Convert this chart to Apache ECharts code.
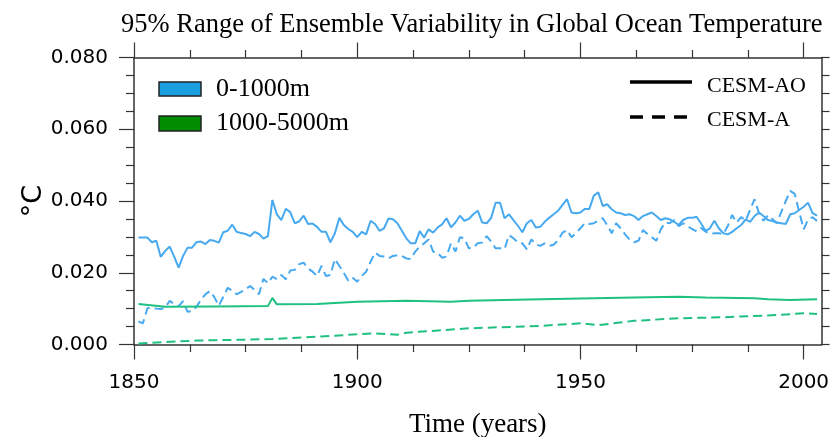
<!DOCTYPE html>
<html><head><meta charset="utf-8">
<script src="https://cdn.jsdelivr.net/npm/echarts@6/dist/echarts.min.js"></script>
<style>html,body{margin:0;padding:0;background:#fff}#c{width:836px;height:437px}</style>
</head><body><div id="c"></div>
<script>
const titleText = '95% Range of Ensemble Variability in Global Ocean Temperature';
const xName = 'Time (years)';
const yName = '°C';
const legendLayers = ['0-1000m', '1000-5000m'];
const legendModels = ['CESM-AO', 'CESM-A'];
const xTicks = [1850, 1900, 1950, 2000];
const yTicks = [0, 0.02, 0.04, 0.06, 0.08];
const startYear = 1851;

// 0-1000m, CESM-AO (solid blue), annual from 1851
const upperAO = [
 .0298,.0298,.0298,.0285,.0289,.0244,.0261,.0273,.0245,.0214,
 .0247,.0270,.0270,.0285,.0287,.0280,.0291,.0289,.0284,.0313,
 .0317,.0334,.0314,.0311,.0308,.0302,.0314,.0308,.0295,.0302,
 .0403,.0363,.0347,.0378,.0369,.0338,.0343,.0359,.0336,.0337,
 .0328,.0314,.0314,.0285,.0310,.0353,.0333,.0322,.0314,.0299,
 .0314,.0307,.0345,.0336,.0317,.0324,.0351,.0349,.0338,.0317,
 .0296,.0282,.0282,.0316,.0298,.0321,.0312,.0326,.0335,.0352,
 .0327,.0340,.0359,.0345,.0350,.0363,.0373,.0340,.0338,.0353,
 .0395,.0395,.0352,.0363,.0347,.0331,.0313,.0338,.0347,.0326,
 .0328,.0342,.0353,.0363,.0373,.0389,.0405,.0368,.0366,.0368,
 .0378,.0378,.0415,.0424,.0386,.0391,.0377,.0368,.0366,.0361,
 .0363,.0358,.0347,.0358,.0363,.0368,.0358,.0347,.0352,.0349,
 .0342,.0333,.0347,.0353,.0353,.0356,.0338,.0317,.0324,.0345,
 .0324,.0310,.0307,.0314,.0324,.0333,.0349,.0342,.0358,.0368,
 .0358,.0347,.0344,.0340,.0338,.0336,.0363,.0366,.0375,.0384,
 .0395,.0366,.0359
];
// 0-1000m, CESM-A (dashed blue), annual from 1851
const upperA = [
 .0064,.0059,.0101,.0103,.0100,.0099,.0103,.0122,.0112,.0107,
 .0121,.0091,.0093,.0105,.0125,.0140,.0149,.0132,.0108,.0133,
 .0158,.0150,.0140,.0147,.0154,.0163,.0152,.0140,.0183,.0171,
 .0189,.0182,.0194,.0182,.0206,.0208,.0224,.0228,.0212,.0203,
 .0191,.0219,.0191,.0194,.0238,.0219,.0200,.0178,.0186,.0175,
 .0191,.0203,.0231,.0256,.0247,.0245,.0240,.0247,.0249,.0247,
 .0240,.0238,.0259,.0273,.0282,.0293,.0259,.0256,.0242,.0245,
 .0282,.0259,.0299,.0296,.0268,.0270,.0282,.0284,.0302,.0287,
 .0268,.0268,.0266,.0305,.0296,.0284,.0282,.0265,.0293,.0279,
 .0275,.0282,.0275,.0278,.0291,.0312,.0319,.0299,.0310,.0324,
 .0338,.0336,.0338,.0345,.0352,.0333,.0310,.0338,.0324,.0307,
 .0293,.0285,.0289,.0319,.0308,.0299,.0289,.0321,.0340,.0338,
 .0347,.0330,.0338,.0330,.0322,.0315,.0325,.0315,.0308,.0310,
 .0310,.0308,.0330,.0361,.0340,.0355,.0345,.0375,.0405,.0366,
 .0345,.0360,.0350,.0338,.0370,.0400,.0428,.0420,.0370,.0321,
 .0349,.0355,.0344
];
// 1000-5000m, CESM-AO (solid green)
const deepAOYears  = [1851,1857,1868,1880,1881,1882,1891,1900,1911,1921,1925,1941,1962,1972,1978,1989,1992,1997,2003];
const deepAOValues = [.0113,.0105,.0106,.0107,.0130,.0112,.0113,.0119,.0122,.0119,.0122,.0126,.0131,.0133,.0131,.0129,.0126,.0124,.0126];
// 1000-5000m, CESM-A (dashed green)
const deepAYears  = [1851,1864,1881,1891,1901,1904,1909,1911,1925,1941,1950,1954,1962,1972,1982,1994,2000,2003];
const deepAValues = [.0003,.0011,.0015,.0022,.0029,.0031,.0027,.0033,.0045,.0052,.0059,.0054,.0066,.0073,.0076,.0082,.0087,.0085];

const blue = '#47a9ef', green = '#1fc080';
const axisColor = '#333';
const pairsFromStart = arr => arr.map((v, i) => [startYear + i, v]);
const pairs = (xs, vs) => xs.map((x, i) => [x, vs[i]]);

const labelFont = {fontFamily: 'DejaVu Sans', fontSize: 20, color: '#000'};
function xAxisCfg(pos) {
  return {
    type: 'value', position: pos, min: 1850, max: 2004, interval: 50,
    axisLine: {show: true, onZero: false, lineStyle: {color: axisColor, width: 1.5}},
    axisTick: {show: true, inside: false, length: 15, customValues: xTicks, lineStyle: {color: axisColor, width: 1.2}},
    minorTick: {show: true, splitNumber: 4, length: 7.5, lineStyle: {color: axisColor, width: 1.2}},
    axisLabel: pos === 'bottom' ? Object.assign({show: true, margin: 28, customValues: xTicks, formatter: v => String(v)}, labelFont) : {show: false},
    splitLine: {show: false}, minorSplitLine: {show: false},
    name: pos === 'bottom' ? xName : '', nameLocation: 'middle', nameGap: 67, nameMoveOverlap: false,
    nameTextStyle: {fontFamily: 'Liberation Serif', fontSize: 27, color: '#000'}
  };
}
function yAxisCfg(pos) {
  return {
    type: 'value', position: pos, min: 0, max: 0.08, interval: 0.02,
    axisLine: {show: true, onZero: false, lineStyle: {color: axisColor, width: 1.5}},
    axisTick: {show: true, inside: false, length: pos === 'left' ? 15 : 8, customValues: yTicks, lineStyle: {color: axisColor, width: 1.2}},
    minorTick: {show: true, splitNumber: 4, length: 8, lineStyle: {color: axisColor, width: 1.2}},
    axisLabel: pos === 'left' ? Object.assign({show: true, margin: 26, customValues: yTicks, formatter: v => v.toFixed(3)}, labelFont) : {show: false},
    splitLine: {show: false}, minorSplitLine: {show: false},
    name: pos === 'left' ? yName : '', nameLocation: 'middle', nameRotate: 90, nameGap: 87, nameMoveOverlap: false,
    nameTextStyle: {fontFamily: 'DejaVu Sans', fontSize: 27, color: '#000'}
  };
}

const chart = echarts.init(document.getElementById('c'), null, {renderer: 'canvas'});
const lineSeries = (name, data, color, dashed) => ({
  name, type: 'line', data, xAxisIndex: 0, yAxisIndex: 0, showSymbol: false, symbol: 'none',
  lineStyle: {color, width: 2, type: dashed ? [9, 5] : 'solid'}, silent: true, animation: false
});
chart.setOption({
  animation: false,
  backgroundColor: '#fff',
  title: {text: titleText, left: 116, top: 7, textStyle: {fontFamily: 'Liberation Serif', fontSize: 26.5, fontWeight: 'normal', color: '#000'}},
  grid: {left: 134, right: 14.5, top: 57.5, bottom: 92.5, containLabel: false, outerBoundsMode: 'none'},
  xAxis: [xAxisCfg('bottom'), xAxisCfg('top')],
  yAxis: [yAxisCfg('left'), yAxisCfg('right')],
  series: [
    lineSeries('CESM-A 0-1000m', pairsFromStart(upperA), blue, true),
    lineSeries('CESM-AO 0-1000m', pairsFromStart(upperAO), blue, false),
    lineSeries('CESM-A 1000-5000m', pairs(deepAYears, deepAValues), green, true),
    lineSeries('CESM-AO 1000-5000m', pairs(deepAOYears, deepAOValues), green, false)
  ],
  graphic: [
    {type: 'rect', shape: {x: 159, y: 82, width: 42, height: 14}, style: {fill: '#1aa0e0', stroke: '#222', lineWidth: 1.5}},
    {type: 'text', x: 216, y: 89, style: {text: legendLayers[0], font: '26px "Liberation Serif"', fill: '#000', verticalAlign: 'middle'}},
    {type: 'rect', shape: {x: 159, y: 116, width: 42, height: 15}, style: {fill: '#008c00', stroke: '#222', lineWidth: 1.5}},
    {type: 'text', x: 216, y: 123, style: {text: legendLayers[1], font: '26px "Liberation Serif"', fill: '#000', verticalAlign: 'middle'}},
    {type: 'line', shape: {x1: 630, y1: 82, x2: 692, y2: 82}, style: {stroke: '#000', lineWidth: 3.5}},
    {type: 'text', x: 707, y: 86, style: {text: legendModels[0], font: '22px "Liberation Serif"', fill: '#000', verticalAlign: 'middle'}},
    {type: 'line', shape: {x1: 630, y1: 117, x2: 692, y2: 117}, style: {stroke: '#000', lineWidth: 3.5, lineDash: [13, 9]}},
    {type: 'text', x: 707, y: 120, style: {text: legendModels[1], font: '22px "Liberation Serif"', fill: '#000', verticalAlign: 'middle'}}
  ]
});
</script></body></html>
